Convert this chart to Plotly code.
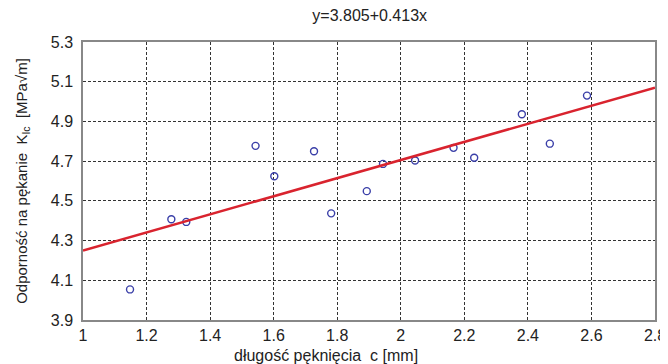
import plotly.graph_objects as go

# measured data points
crack_len = [1.148, 1.278, 1.325, 1.543, 1.602, 1.727, 1.781, 1.893, 1.944,
             2.045, 2.166, 2.231, 2.381, 2.469, 2.586]
toughness = [4.054, 4.407, 4.394, 4.777, 4.624, 4.750, 4.437, 4.549, 4.686,
             4.703, 4.767, 4.717, 4.936, 4.788, 5.030]

# regression line as drawn
fit_x = [1.0, 2.8]
fit_y = [4.25, 5.07]

x_ticks = [1, 1.2, 1.4, 1.6, 1.8, 2, 2.2, 2.4, 2.6, 2.8]
x_tick_labels = ["1", "1.2", "1.4", "1.6", "1.8", "2", "2.2", "2.4", "2.6", "2.8"]
y_ticks = [3.9, 4.1, 4.3, 4.5, 4.7, 4.9, 5.1, 5.3]
y_tick_labels = ["3.9", "4.1", "4.3", "4.5", "4.7", "4.9", "5.1", "5.3"]

title_text = "y=3.805+0.413x"
x_title = "długość pęknięcia  c [mm]"
y_title = "Odporność na pękanie  K<sub>Ic</sub>  [MPa√m]"

font = "Liberation Sans, Arial, sans-serif"

fig = go.Figure()
fig.add_trace(go.Scatter(
    x=crack_len, y=toughness, mode="markers",
    marker=dict(symbol="circle-open", size=7, color="#3a3fa8", line=dict(width=1.4)),
    showlegend=False, cliponaxis=False))
fig.add_trace(go.Scatter(
    x=fit_x, y=fit_y, mode="lines",
    line=dict(color="#d9232e", width=2.6),
    showlegend=False))

axis_common = dict(
    showgrid=True, gridcolor="#333333", griddash="3px,2px", gridwidth=1,
    showline=True, linecolor="#888888", linewidth=1.5, mirror=True,
    zeroline=False, ticks="", automargin=False,
    tickfont=dict(family=font, size=16, color="#222222"),
)

# page body has an 8px margin, so the figure is sized to fit the 668x364 window
fig.update_layout(
    width=660, height=356,
    margin=dict(l=75, r=13, t=34, b=44),
    paper_bgcolor="white", plot_bgcolor="white",
    title=dict(text=title_text, x=0.548, xanchor="center", y=0.98, yanchor="middle",
               font=dict(family=font, size=16, color="#222222")),
    xaxis=dict(range=[1, 2.8], tickvals=x_ticks, ticktext=x_tick_labels,
               **axis_common),
    yaxis=dict(range=[3.9, 5.3], tickvals=y_ticks, ticktext=y_tick_labels,
               ticklabelstandoff=5,
               title=dict(text=y_title, standoff=20, font=dict(family=font, size=15, color="#222222")),
               **axis_common),
    annotations=[dict(text=x_title, xref="paper", yref="paper", x=0.425, y=0,
                      xanchor="center", yanchor="middle", yshift=-35, showarrow=False,
                      font=dict(family=font, size=16, color="#222222"))],
)

fig.write_html("out.html")
